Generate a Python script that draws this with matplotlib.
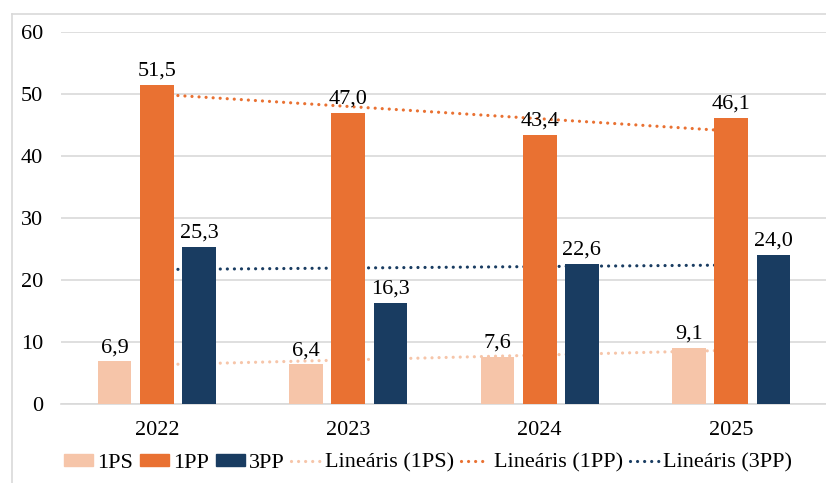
import matplotlib
matplotlib.use("Agg")
import matplotlib.pyplot as plt
import numpy as np
from matplotlib.patches import Patch
from matplotlib.lines import Line2D

years = ["2022", "2023", "2024", "2025"]
s_1ps = [6.9, 6.4, 7.6, 9.1]
s_1pp = [51.5, 47.0, 43.4, 46.1]
s_3pp = [25.3, 16.3, 22.6, 24.0]
series_names = ["1PS", "1PP", "3PP"]
trend_names = ["Lineáris (1PS)", "Lineáris (1PP)", "Lineáris (3PP)"]
y_ticks = [0, 10, 20, 30, 40, 50, 60]

colors = ["#F6C5A9", "#E97132", "#193C61"]

plt.rcParams["font.family"] = ["Liberation Serif", "DejaVu Serif"]

W, H = 826, 483
fig = plt.figure(figsize=(W / 100, H / 100), dpi=100)
ax = fig.add_axes([61 / W, 1 - 404 / H, (827 - 61) / W, (404 - 32) / H])

x = np.arange(len(years))
width = 0.175
offsets = [-0.22, 0.0, 0.22]
data = [s_1ps, s_1pp, s_3pp]
FS = 16

for vals, off, c in zip(data, offsets, colors):
    bars = ax.bar(x + off, vals, width=width, color=c, zorder=3)
    for b, v in zip(bars, vals):
        ax.annotate(f"{v:.1f}".replace(".", ","),
                    (b.get_x() + b.get_width() / 2, v),
                    xytext=(0, 3), textcoords="offset points",
                    ha="center", va="bottom", fontsize=FS, color="#000000", zorder=5)

# linear trendlines (drawn behind bars)
for vals, c in zip(data, colors):
    k, b0 = np.polyfit(x, vals, 1)
    ax.plot([x[0], x[-1]], [b0 + k * x[0], b0 + k * x[-1]], color=c, lw=2.3,
            linestyle=(0, (0.01, 2.2)), dash_capstyle="round", zorder=2)

ax.set_xlim(-0.5, 3.5)
ax.set_ylim(0, 60)
ax.set_yticks(y_ticks)
ax.set_xticks(x)
ax.set_xticklabels(years)
ax.tick_params(axis="both", length=0, labelsize=FS)
ax.tick_params(axis="x", pad=12)
ax.tick_params(axis="y", pad=13)
ax.yaxis.grid(True, color="#D9D9D9", lw=1.2, zorder=0)
ax.set_axisbelow(True)
for sp in ["top", "right", "left"]:
    ax.spines[sp].set_visible(False)
ax.spines["bottom"].set_color("#D9D9D9")
ax.spines["bottom"].set_linewidth(1.2)

# chart border (left/top)
fig.add_artist(Line2D([12 / W, 12 / W], [1 - 14 / H, 0], transform=fig.transFigure, color="#D9D9D9", lw=1.2))
fig.add_artist(Line2D([12 / W, 1], [1 - 14 / H, 1 - 14 / H], transform=fig.transFigure, color="#D9D9D9", lw=1.2))

handles = [Patch(color=c) for c in colors] + [
    Line2D([0], [0], color=c, lw=2.3, linestyle=(0, (0.01, 2.2)), dash_capstyle="round") for c in colors]
labels = series_names + trend_names
fig.legend(handles, labels, loc="center", bbox_to_anchor=(428 / W, 1 - 463 / H), ncol=6,
           frameon=False, fontsize=FS, handlelength=1.3, handleheight=0.45,
           handletextpad=0.2, columnspacing=0.3, borderaxespad=0, borderpad=0)

fig.savefig("out.png", dpi=100)
